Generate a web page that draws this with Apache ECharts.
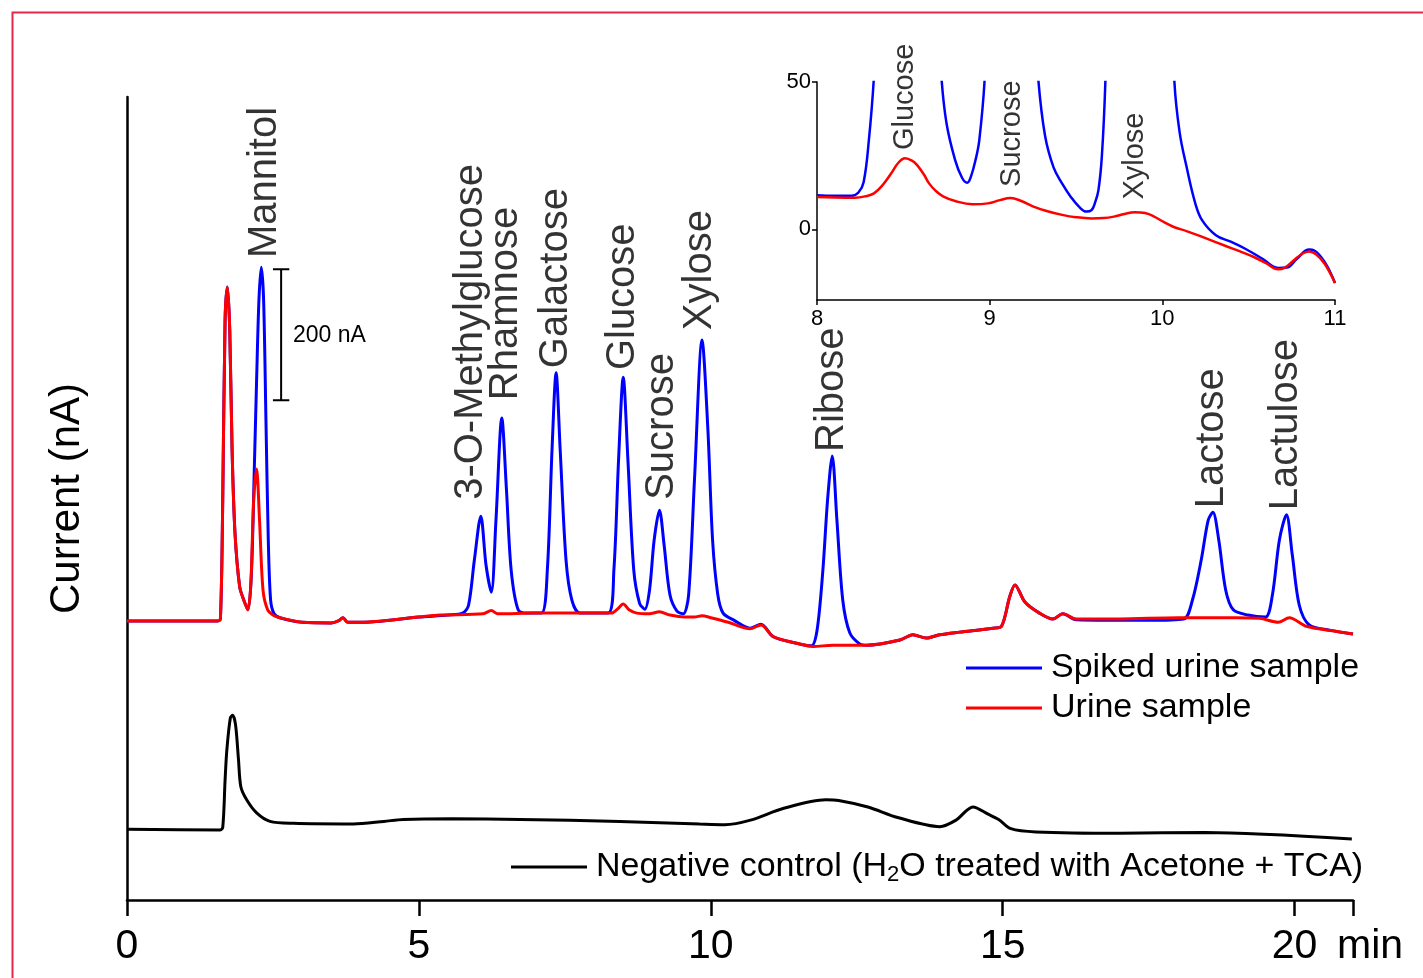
<!DOCTYPE html>
<html>
<head>
<meta charset="utf-8">
<script src="https://cdn.jsdelivr.net/npm/echarts@6/dist/echarts.min.js"></script>
<style>
  html, body { margin: 0; padding: 0; background: #fff; }
  #main { width: 1423px; height: 978px; }
</style>
</head>
<body>
<div id="main"></div>
<script>
// retention time (min) and current (nA)
const negativeControl = [
  [0, 108], [1.59, 107], [1.64, 111], [1.68, 183], [1.71, 229], [1.77, 278], [1.81, 282],
  [1.86, 267], [1.91, 214], [1.95, 173], [2.05, 153], [2.22, 133], [2.45, 120], [2.85, 117],
  [3.88, 116], [4.4, 120], [4.73, 123], [5.58, 124], [6.73, 123], [8.44, 120], [9.81, 116], [10.24, 115],
  [10.68, 122], [11.25, 140], [11.97, 153], [12.19, 152], [12.69, 142], [13.2, 126],
  [13.92, 112], [14.2, 122], [14.49, 142], [14.75, 131], [14.93, 123], [15.14, 109],
  [15.57, 104], [17.01, 102], [18.46, 103], [20.98, 93]
];

const urine = [
  [0, 426], [1.55, 426], [1.6, 429], [1.64, 611], [1.68, 885], [1.72, 936], [1.76, 870],
  [1.8, 687], [1.85, 560], [1.93, 478], [2.0, 458], [2.07, 443], [2.12, 481], [2.17, 611],
  [2.22, 658], [2.27, 580], [2.33, 473], [2.41, 443], [2.52, 434], [2.62, 431], [3.0, 424],
  [3.5, 423], [3.62, 426], [3.7, 431], [3.78, 424], [4.0, 424], [5.0, 432], [5.36, 435],
  [6.1, 437], [6.24, 442], [6.35, 437], [7.0, 438], [8.0, 438], [8.3, 438], [8.4, 444],
  [8.5, 452], [8.6, 443], [8.73, 438], [8.95, 437], [9.12, 440], [9.3, 435], [9.55, 432],
  [9.72, 432], [9.85, 434], [10.0, 431], [10.3, 424], [10.67, 414], [10.86, 420],
  [11.07, 402], [11.47, 392], [11.75, 387], [12.09, 389], [12.67, 389], [13.24, 397],
  [13.46, 405], [13.69, 400], [13.92, 405], [14.26, 409], [14.83, 415], [14.98, 418],
  [15.12, 463], [15.21, 481], [15.38, 455], [15.63, 438], [15.86, 429], [16.03, 437],
  [16.26, 429], [17.0, 429], [18.0, 431], [19.0, 431], [19.4, 430], [19.72, 424],
  [19.91, 431], [20.2, 418], [20.65, 411], [21.0, 406]
];

const spikedUrine = [
  [0, 426], [1.55, 426], [1.6, 429], [1.64, 611], [1.68, 885], [1.72, 936], [1.76, 870],
  [1.8, 687], [1.85, 560], [1.93, 478], [2.0, 458], [2.07, 443], [2.13, 496], [2.18, 656],
  [2.22, 794], [2.26, 916], [2.3, 966], [2.34, 916], [2.38, 733], [2.42, 550], [2.46, 458],
  [2.52, 437], [2.62, 431], [3.0, 424], [3.5, 423], [3.62, 426], [3.7, 431], [3.78, 424],
  [4.0, 424], [5.0, 432],
  [5.5, 435], [5.75, 438], [5.85, 450], [5.95, 519], [6.06, 586], [6.15, 511], [6.24, 470],
  [6.32, 580], [6.42, 736], [6.5, 626], [6.58, 504], [6.7, 443], [6.85, 438], [7.1, 438],
  [7.2, 504], [7.28, 687], [7.35, 805], [7.42, 687], [7.52, 519], [7.62, 458], [7.76, 438],
  [8.24, 438], [8.34, 504], [8.42, 672], [8.5, 798], [8.58, 672], [8.68, 504], [8.78, 453],
  [8.87, 444], [8.95, 473], [9.03, 550], [9.12, 595], [9.2, 542], [9.3, 466], [9.42, 441],
  [9.53, 437], [9.62, 466], [9.72, 641], [9.85, 855], [9.95, 718], [10.03, 550], [10.12, 466],
  [10.21, 438], [10.4, 427], [10.67, 415], [10.86, 421], [11.07, 402], [11.47, 392],
  [11.72, 388], [11.82, 412], [11.92, 504], [12.0, 611], [12.08, 678], [12.16, 580],
  [12.26, 458], [12.38, 408], [12.55, 391], [12.67, 389], [13.24, 397], [13.46, 405],
  [13.69, 400], [13.92, 405], [14.26, 409], [14.83, 415], [14.98, 418], [15.12, 463],
  [15.21, 481], [15.38, 455], [15.63, 438], [15.86, 429], [16.03, 437], [16.26, 428],
  [17.5, 427], [18.1, 429], [18.25, 458], [18.4, 519], [18.52, 580], [18.6, 592],
  [18.7, 550], [18.82, 473], [18.95, 443], [19.2, 435], [19.5, 432], [19.62, 466],
  [19.74, 550], [19.86, 588], [19.96, 527], [20.08, 450], [20.25, 420], [20.6, 412], [21.0, 406]
];

// inset, 8-11 min
const urineZoom = [
  [8.0, 11.0], [8.1, 10.8], [8.22, 10.7], [8.28, 11.2], [8.33, 12.2], [8.38, 15], [8.43, 19.0],
  [8.47, 22.5], [8.51, 24.1], [8.55, 23.3], [8.58, 21.8], [8.62, 18.5], [8.65, 15.5],
  [8.69, 12.9], [8.73, 11.2], [8.8, 9.6], [8.9, 8.5], [8.99, 8.8], [9.06, 9.9], [9.12, 10.6],
  [9.18, 9.7], [9.25, 7.8], [9.33, 6.2], [9.42, 4.9], [9.5, 4.1], [9.59, 3.7], [9.66, 3.8],
  [9.72, 4.3], [9.78, 5.2], [9.84, 5.8], [9.9, 5.5], [9.95, 4.4], [10.01, 2.4],
  [10.07, 0.7], [10.14, -0.6], [10.25, -3], [10.36, -5.5], [10.45, -7.5], [10.53, -9.4],
  [10.6, -11.5], [10.67, -13.6], [10.71, -13], [10.76, -10.6], [10.81, -8.3], [10.85, -7.5],
  [10.89, -8.5], [10.94, -11.7], [11.0, -18.2]
];

const spikedZoom = [
  [8.0, 11.6], [8.1, 11.4], [8.2, 11.4], [8.24, 12.5], [8.27, 16], [8.3, 30], [8.33, 52],
  [8.37, 100], [8.42, 250], [8.5, 380], [8.58, 250], [8.65, 110], [8.72, 52], [8.75, 36],
  [8.8, 23.5], [8.84, 17.5], [8.87, 15.8], [8.89, 17.6], [8.92, 24], [8.94, 30.3], [8.97, 50],
  [9.02, 110], [9.12, 170], [9.22, 100], [9.28, 52], [9.32, 32], [9.37, 21], [9.42, 15.5],
  [9.47, 11], [9.52, 7.5], [9.56, 6], [9.59, 6.5], [9.61, 9], [9.63, 13.3], [9.65, 25], [9.67, 50],
  [9.72, 150], [9.85, 430], [9.98, 160], [10.07, 50], [10.1, 33], [10.14, 21.3], [10.19, 9],
  [10.23, 3.1], [10.31, -2.0], [10.4, -4.3], [10.48, -6.6], [10.58, -10], [10.67, -13.1],
  [10.72, -13], [10.78, -10], [10.85, -6.9], [10.88, -7.2], [10.94, -11.1], [11.0, -18.2]
];

// peak names, written next to each peak
const peakNames = ['Mannitol', '3-O-Methylglucose', 'Rhamnose', 'Galactose', 'Glucose',
  'Sucrose', 'Xylose', 'Ribose', 'Lactose', 'Lactulose'];
const peakTimes = [2.36, 5.89, 6.49, 7.35, 8.49, 9.16, 9.81, 12.07, 18.58, 19.86];
const peakLabelY = [980, 611, 763, 812, 809, 611, 870, 684, 598, 595];

const zoomNames = ['Glucose', 'Sucrose', 'Xylose'];
const zoomTimes = [8.51, 9.13, 9.84];
const zoomLabelY = [26.9, 14.4, 10.1];

// 200 nA scale bar
const scaleBar = [[2.5, 963], [2.78, 963], [2.64, 963], [2.64, 763], [2.5, 763], [2.78, 763]];

const FONT = '"Liberation Sans", Arial, sans-serif';

const chart = echarts.init(document.getElementById('main'), null, { renderer: 'canvas' });

function labelSeries(names, times, ys, axisIdx, size) {
  return {
    type: 'scatter',
    name: 'labels' + axisIdx,
    xAxisIndex: axisIdx,
    yAxisIndex: axisIdx,
    symbolSize: 0,
    clip: false,
    silent: true,
    data: names.map((n, i) => ({ name: n, value: [times[i], ys[i]] })),
    label: {
      show: true,
      formatter: '{b}',
      position: [0, 0],
      rotate: 90,
      align: 'left',
      verticalAlign: 'middle',
      fontFamily: FONT,
      fontSize: size,
      color: '#000'
    },
    z: 5
  };
}

const option = {
  backgroundColor: '#fff',
  animation: false,
  grid: [
    { left: 127, top: 97, width: 1226, height: 803 },
    { left: 817, top: 82, width: 518, height: 218 }
  ],
  xAxis: [{
    type: 'value', gridIndex: 0, min: 0, max: 21, interval: 5,
    axisLine: { onZero: false, lineStyle: { color: '#000', width: 2.5 } },
    axisTick: { show: true, length: 16, lineStyle: { color: '#000', width: 2.5 } },
    axisLabel: { fontFamily: FONT, fontSize: 41, color: '#000', margin: 26,
      formatter: v => (v <= 20 ? String(v) : '') },
    splitLine: { show: false }
  }, {
    type: 'value', gridIndex: 1, min: 8, max: 11, interval: 1,
    axisLine: { onZero: false, lineStyle: { color: '#000', width: 1.5 } },
    axisTick: { show: true, length: 5, lineStyle: { color: '#000', width: 1.5 } },
    axisLabel: { fontFamily: FONT, fontSize: 22, color: '#000', margin: 8 },
    splitLine: { show: false }
  }],
  yAxis: [{
    type: 'value', gridIndex: 0, min: 0, max: 1226,
    name: 'Current (nA)', nameLocation: 'middle', nameGap: 39, nameRotate: 90,
    nameTextStyle: { fontFamily: FONT, fontSize: 42, color: '#000' },
    axisLine: { show: true, onZero: false, lineStyle: { color: '#000', width: 2.5 } },
    axisTick: { show: false }, axisLabel: { show: false }, splitLine: { show: false }
  }, {
    type: 'value', gridIndex: 1, min: -24, max: 50,
    axisLine: { show: true, onZero: false, lineStyle: { color: '#000', width: 1.5 } },
    axisTick: { show: true, length: 5, customValues: [0, 50], lineStyle: { color: '#000', width: 1.5 } },
    axisLabel: { fontFamily: FONT, fontSize: 22, color: '#000', margin: 6, customValues: [0, 50] },
    splitLine: { show: false }
  }],
  legend: [{
    data: [
      { name: 'Spiked urine sample', icon: 'rect', itemStyle: { color: '#0000ff' } },
      { name: 'Urine sample', icon: 'rect', itemStyle: { color: '#ff0000' } }
    ],
    orient: 'vertical', left: 961, top: 646,
    itemWidth: 76, itemHeight: 3, itemGap: 6,
    textStyle: { fontFamily: FONT, fontSize: 34, color: '#000', lineHeight: 34, padding: [0, 0, 0, 4] },
    selectedMode: false
  }, {
    data: [{ name: 'Negative control', icon: 'rect', itemStyle: { color: '#000' } }],
    left: 506, top: 845,
    itemWidth: 76, itemHeight: 3,
    formatter: () => '{a|Negative control (H}{s|2}{a|O treated with Acetone + TCA)}',
    textStyle: {
      fontFamily: FONT, fontSize: 34, color: '#000', padding: [0, 0, 0, 4],
      rich: {
        a: { fontFamily: FONT, fontSize: 34, color: '#000' },
        s: { fontFamily: FONT, fontSize: 22, color: '#000', verticalAlign: 'bottom', padding: [16, 0, 0, 0] }
      }
    },
    selectedMode: false
  }],
  graphic: [
    { type: 'rect', left: 10, top: 10, z: 100, silent: true,
      shape: { width: 1440, height: 1000 },
      style: { fill: 'none', stroke: '#e3294b', lineWidth: 2 } },
    { type: 'text', left: 293, top: 324, silent: true,
      style: { text: '200 nA', fontFamily: FONT, fontSize: 23, fill: '#000' } },
    { type: 'text', left: 1337, top: 926, silent: true,
      style: { text: 'min', fontFamily: FONT, fontSize: 41, fill: '#000' } }
  ],
  series: [
    { type: 'line', name: 'Negative control', data: negativeControl, symbol: 'none',
      smooth: 0.3, lineStyle: { color: '#000', width: 3 }, itemStyle: { color: '#000' } },
    { type: 'line', name: 'Spiked urine sample', data: spikedUrine, symbol: 'none',
      smooth: 0.3, lineStyle: { color: '#0000ff', width: 3 }, itemStyle: { color: '#0000ff' } },
    { type: 'line', name: 'Urine sample', data: urine, symbol: 'none',
      smooth: 0.3, lineStyle: { color: '#ff0000', width: 3 }, itemStyle: { color: '#ff0000' } },
    { type: 'line', name: 'scale bar', data: scaleBar, symbol: 'none',
      lineStyle: { color: '#000', width: 2 }, silent: true },
    { type: 'line', name: 'spiked inset', xAxisIndex: 1, yAxisIndex: 1, data: spikedZoom,
      symbol: 'none', smooth: 0.4, lineStyle: { color: '#0000ff', width: 2.5 } },
    { type: 'line', name: 'urine inset', xAxisIndex: 1, yAxisIndex: 1, data: urineZoom,
      symbol: 'none', smooth: 0.4, lineStyle: { color: '#ff0000', width: 2.5 } },
    labelSeries(peakNames, peakTimes, peakLabelY, 0, 40),
    labelSeries(zoomNames, zoomTimes, zoomLabelY, 1, 29)
  ]
};

chart.setOption(option);
</script>
</body>
</html>
